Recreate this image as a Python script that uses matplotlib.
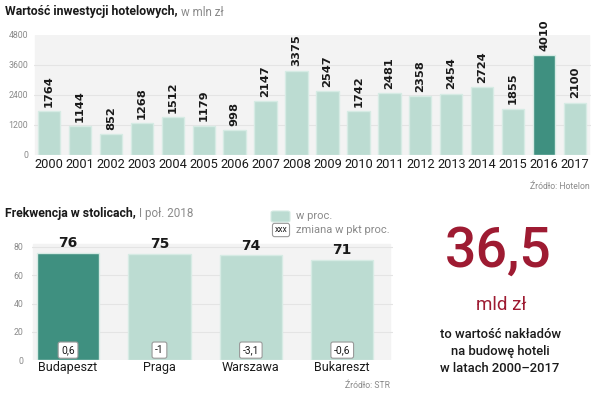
import matplotlib
matplotlib.use("Agg")
import matplotlib.pyplot as plt
from matplotlib.patches import Rectangle, FancyBboxPatch

plt.rcParams['font.family'] = ['Roboto', 'DejaVu Sans']

years = ['2000', '2001', '2002', '2003', '2004', '2005', '2006', '2007', '2008',
         '2009', '2010', '2011', '2012', '2013', '2014', '2015', '2016', '2017']
invest = [1764, 1144, 852, 1268, 1512, 1179, 998, 2147, 3375,
          2547, 1742, 2481, 2358, 2454, 2724, 1855, 4010, 2100]
highlight_year = '2016'
invest_ticks = [0, 1200, 2400, 3600, 4800]

cities = ['Budapeszt', 'Praga', 'Warszawa', 'Bukareszt']
occupancy = [76, 75, 74, 71]
change = ['0,6', '-1', '-3,1', '-0,6']
highlight_city = 'Budapeszt'
occ_ticks = [0, 20, 40, 60, 80]

LIGHT = '#bcdcd2'
DARK = '#3f9080'
EDGE = '#d6ebe4'
BG = '#f3f3f3'
GRID = '#e4e4e4'
RED = '#9e1b32'
TXT = '#1a1a1a'
GRAY = '#8a8a8a'

W, H = 600, 395
fig = plt.figure(figsize=(6, 3.95), dpi=100)


def fx(x):
    return x / W


def fy(y):
    return 1 - y / H


def title_pair(x, y, bold, light):
    t = fig.text(fx(x), fy(y), bold, fontsize=8.8, fontweight='bold', color=TXT,
                 va='center', ha='left')
    fig.canvas.draw()
    bb = t.get_window_extent()
    fig.text(bb.x1 / W + fx(3), fy(y), light, fontsize=8.4, color=GRAY,
             va='center', ha='left')


# ---------- top chart ----------
ax1 = fig.add_axes([fx(33.5), fy(155), fx(557), 120 / H])
ax1.set_xlim(-0.5, len(years) - 0.5)
ax1.set_ylim(0, 4800)
ax1.add_patch(Rectangle((-0.45, 0), len(years) - 0.1, 4800, color=BG, zorder=0))
for t in invest_ticks[1:-1]:
    ax1.axhline(t, color=GRID, lw=0.8, zorder=1)
colors = [DARK if y == highlight_year else LIGHT for y in years]
ax1.bar(range(len(years)), invest, width=0.72, color=colors,
        edgecolor=EDGE, linewidth=1, zorder=2)
for i, v in enumerate(invest):
    ax1.annotate(str(v), (i, v), xytext=(0, 3), textcoords='offset points',
                 rotation=90, ha='center', va='bottom', fontsize=8.2,
                 fontweight='bold', family='DejaVu Sans', color=TXT, zorder=3)
ax1.set_xticks(range(len(years)))
ax1.set_xticklabels(years, fontsize=9.2, color=TXT)
ax1.set_yticks(invest_ticks)
ax1.set_yticklabels([str(t) for t in invest_ticks], fontsize=6.3, color=GRAY)
ax1.tick_params(length=0, pad=2)
ax1.tick_params(axis='y', pad=4)
for s in ax1.spines.values():
    s.set_visible(False)
ax1.patch.set_alpha(0)

title_pair(5, 12, 'Wartość inwestycji hotelowych,', 'w mln zł')
fig.text(fx(590), fy(186), 'Źródło: Hotelon', fontsize=6.2, color=GRAY,
         va='center', ha='right')

# ---------- bottom chart ----------
ax2 = fig.add_axes([fx(31.5), fy(360), fx(361), 113 / H * 1.06])
ax2.set_xlim(-0.4, len(cities) - 0.45)
ax2.set_ylim(0, 84.8)
ax2.add_patch(Rectangle((-0.38, 0), len(cities) - 0.1, 82, color=BG, zorder=0))
for t in occ_ticks[1:]:
    ax2.axhline(t, color=GRID, lw=0.8, zorder=1)
c2 = [DARK if c == highlight_city else LIGHT for c in cities]
ax2.bar(range(len(cities)), occupancy, width=0.68, color=c2, edgecolor=EDGE,
        linewidth=1, zorder=2)
for i, (v, ch) in enumerate(zip(occupancy, change)):
    ax2.annotate(str(v), (i, v), xytext=(0, 2), textcoords='offset points',
                 ha='center', va='bottom', fontsize=10, fontweight='bold',
                 family='DejaVu Sans', color=TXT, zorder=3)
    ax2.text(i, 7, ch, ha='center', va='center', fontsize=7.4, color=TXT,
             zorder=4, bbox=dict(boxstyle='round,pad=0.3,rounding_size=0.2',
                                 fc='white', ec='#9a9a9a', lw=0.8))
ax2.set_xticks(range(len(cities)))
ax2.set_xticklabels(cities, fontsize=9, color=TXT)
ax2.set_yticks(occ_ticks)
ax2.set_yticklabels([str(t) for t in occ_ticks], fontsize=6.3, color=GRAY)
ax2.tick_params(length=0, pad=1)
ax2.tick_params(axis='y', pad=6)
for s in ax2.spines.values():
    s.set_visible(False)
ax2.patch.set_alpha(0)

title_pair(5, 213, 'Frekwencja w stolicach,', 'I poł. 2018')
fig.text(fx(390), fy(385), 'Źródło: STR', fontsize=6.2, color=GRAY,
         va='center', ha='right')

# legend
fig.patches.append(FancyBboxPatch((fx(271), fy(222)), fx(19), 11 / H,
                                  boxstyle='round,pad=0,rounding_size=0.004',
                                  transform=fig.transFigure, fc=LIGHT, ec=EDGE, lw=0.8))
fig.text(fx(296), fy(216), 'w proc.', fontsize=8, color=GRAY, va='center', ha='left')
fig.text(fx(281), fy(230), 'xxx', fontsize=6.2, color=TXT, va='center', ha='center',
         bbox=dict(boxstyle='round,pad=0.25', fc='white', ec='#9a9a9a', lw=0.8))
fig.text(fx(296), fy(230), 'zmiana w pkt proc.', fontsize=8, color=GRAY,
         va='center', ha='left')

# big number
fig.text(fx(498), fy(251), '36,5', fontsize=40, fontweight='medium', color=RED,
         va='center', ha='center')
fig.text(fx(501), fy(305), 'mld zł', fontsize=13.5, color=RED, va='center', ha='center')
for y, line in zip([334, 352, 369], ['to wartość nakładów', 'na budowę hoteli',
                                     'w latach 2000–2017']):
    fig.text(fx(500), fy(y), line, fontsize=9.4, fontweight='medium', color=TXT,
             va='center', ha='center')

fig.savefig('out.png', dpi=100, facecolor='white')
